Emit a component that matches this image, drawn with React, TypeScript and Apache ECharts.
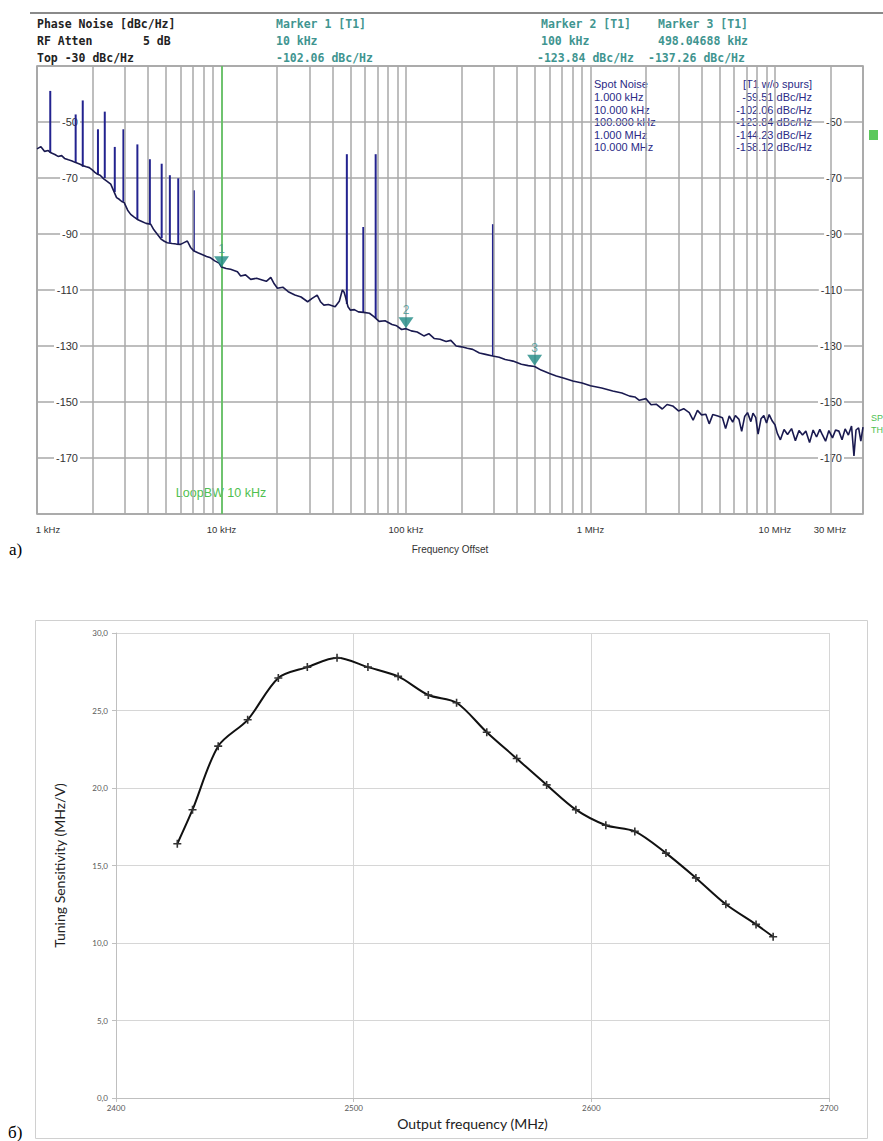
import React, { useEffect, useRef } from "react";
import * as echarts from "echarts";

// ---------- (a) phase noise: trace without spurs ----------
const noiseFreq = [
  1000, 1050, 1100, 1150, 1190, 1250, 1300, 1360, 1410, 1480, 1550, 1620, 1700, 1780, 1850, 1920,
  2000, 2060, 2130, 2200, 2300, 2400, 2510, 2600, 2700, 2790, 2880, 2970, 3100, 3220, 3350, 3500,
  3700, 3900, 4130, 4300, 4490, 4700, 4900, 5080, 5400, 5700, 6000, 6300, 6530, 6800, 7100, 7500,
  7900, 8300, 8730, 9200, 9700, 10000, 10600, 11200, 12200, 12700, 13500, 14400, 15500, 16600,
  17500, 18500, 19300, 20100, 21500, 23000, 25000, 27000, 29300, 31000, 33000, 34500, 35900, 38000,
  41300, 43500, 45200, 46200, 47000, 48500, 50000, 52500, 55200, 59000, 63400, 67000, 71500, 77000,
  84000, 89000, 94700, 100000, 106800, 115000, 125000, 133000, 142000, 153000, 165000, 175000,
  187000, 200000, 215000, 230000, 250000, 270000, 295000, 320000, 345000, 380000, 422000, 460000,
  498000, 540000, 600000, 653000, 720000, 802000, 900000, 1000000, 1150000, 1320000, 1480000,
  1630000, 1740000, 1840000, 2000000, 2130000, 2270000, 2450000, 2600000, 2790000, 3000000,
  3200000, 3430000, 3600000, 3800000, 4000000, 4220000, 4400000, 4600000, 4900000, 5190000,
  5400000, 5650000, 5900000, 6100000, 6380000, 6600000, 6850000, 7100000, 7400000, 7600000,
  7870000, 8100000, 8400000, 8700000, 9000000, 9300000, 9670000, 10000000, 10300000, 10700000,
  11200000, 11700000, 12300000, 12900000, 13500000, 14100000, 14700000, 15400000, 16100000,
  16800000, 17500000, 18000000, 18800000, 19600000, 20500000, 21300000, 22200000, 23100000,
  24000000, 25000000, 26000000, 26800000, 27500000, 28400000, 29200000, 30000000,
];
const noiseLevel = [
  -59.6, -58.8, -60.5, -60.2, -61.0, -61.6, -62.3, -62.0, -63.0, -63.5, -63.9, -64.5, -65.0, -65.6, -66.0, -66.3,
  -67.2, -68.0, -68.7, -69.0, -70.3, -71.2, -72.2, -74.5, -77.0, -77.6, -78.4, -78.8, -81.5, -83.0, -83.9, -84.8,
  -85.5, -86.2, -86.5, -88.5, -90.1, -91.8, -92.6, -93.1, -93.4, -93.6, -93.7, -93.0, -92.5, -94.8, -96.1, -96.8,
  -97.4, -98.0, -98.5, -99.6, -100.4, -101.8, -102.3, -102.6, -103.5, -105.0, -104.6, -106.2, -105.8, -106.4,
  -106.9, -105.5, -107.8, -109.4, -109.0, -110.6, -111.8, -112.5, -114.2, -113.0, -111.8, -114.3, -115.4, -115.2,
  -116.0, -114.0, -110.0, -110.8, -112.5, -116.0, -117.2, -117.0, -117.8, -118.0, -118.3, -119.5, -121.2, -121.0,
  -122.3, -122.8, -124.1, -123.8, -124.6, -125.0, -126.4, -125.6, -127.3, -127.6, -128.4, -128.0,
  -130.0, -130.3, -130.8, -131.2, -132.5, -133.0, -133.6, -134.0, -134.8, -135.4, -136.5, -137.0,
  -137.3, -138.6, -139.8, -140.7, -141.5, -142.5, -143.2, -144.2, -145.0, -146.1, -146.8,
  -147.9, -148.2, -149.4, -148.8, -151.0, -150.8, -152.5, -150.9, -151.4, -153.2,
  -152.4, -153.8, -156.5, -153.0, -154.6, -154.4, -157.8, -154.5, -155.0, -155.6,
  -159.5, -155.0, -157.2, -154.8, -156.2, -160.5, -155.2, -153.8, -157.0, -154.0,
  -155.6, -161.5, -156.0, -154.8, -157.5, -154.5, -156.8, -158.1, -161.2, -163.5,
  -159.8, -161.6, -159.5, -163.8, -160.2, -161.8, -160.4, -164.5, -160.0,
  -162.5, -159.8, -161.5, -164.0, -160.2, -162.8, -160.0, -160.4, -163.5,
  -159.6, -161.8, -158.6, -169.3, -160.0, -159.2, -164.0, -159.0,
];

// ---------- (a) spurs ----------
const spikeFreq = [1180, 1620, 1770, 2140, 2330, 2640, 2940, 3500, 4090, 4740, 5250, 5830, 7080, 47800, 58700, 68500, 296000];
const spikeBase = [-61.0, -64.5, -66.0, -68.7, -70.0, -75.0, -78.5, -84.8, -86.5, -91.5, -93.1, -93.7, -96.1, -115.0, -118.0, -120.0, -133.6];
const spikeTop = [-38.9, -47.3, -42.3, -52.6, -46.3, -58.9, -52.6, -58.0, -63.3, -64.9, -69.0, -70.1, -74.4, -61.5, -87.5, -61.5, -86.5];

// ---------- (a) markers ----------
const markerName = ["1", "2", "3"];
const markerFreq = [10000, 100000, 498046.88];
const markerLevel = [-102.06, -123.84, -137.26];
const markerFreqText = ["10 kHz", "100 kHz", "498.04688 kHz"];
const markerLevelText = ["-102.06 dBc/Hz", "-123.84 dBc/Hz", "-137.26 dBc/Hz"];

// ---------- (a) spot noise table ----------
const spotFreqText = ["1.000 kHz", "10.000 kHz", "100.000 kHz", "1.000 MHz", "10.000 MHz"];
const spotLevel = [-59.51, -102.06, -123.84, -144.23, -158.12];

// ---------- (a) grid frequencies (1..9 x decade) ----------
const gridMantissa = [2, 3, 4, 5, 6, 7, 8, 9];
const gridDecades = [1000, 10000, 100000, 1000000, 10000000];
const loopBW = 10000;

// ---------- (b) tuning sensitivity ----------
const tuneFreq = [2425.8, 2432.2, 2443.0, 2455.4, 2468.3, 2480.5, 2493.0, 2506.0, 2518.7, 2531.4, 2543.3, 2556.0, 2568.6, 2581.2, 2593.5, 2606.1, 2618.3, 2631.4, 2644.0, 2656.6, 2669.3, 2676.5];
const tuneSens = [16.4, 18.6, 22.7, 24.4, 27.1, 27.8, 28.4, 27.8, 27.2, 26.0, 25.5, 23.6, 21.9, 20.2, 18.6, 17.6, 17.2, 15.8, 14.2, 12.5, 11.2, 10.4];

const W = 883;
const H = 1141;
const TEAL = "#3f9590";
const NAVY = "#2a2a86";

function fmtFreq(v: number) {
  const r = Math.round(v);
  if (r <= 1000) return `{first|1 kHz}`;
  if (r >= 29000000) return `{last|${Math.round(r / 1e6)} MHz}`;
  if (r >= 1e6) return `${Math.round(r / 1e6)} MHz`;
  return `${Math.round(r / 1e3)} kHz`;
}

export default function App() {
  const ref = useRef<HTMLDivElement>(null);
  useEffect(() => {
    if (!ref.current) return;
    const chart = echarts.init(ref.current, undefined, { renderer: "svg" });

    const minorGrid: any[] = [];
    gridDecades.forEach((d) => {
      gridMantissa.forEach((m) => {
        const f = d * m;
        if (f < 30000000) minorGrid.push({ xAxis: f });
      });
    });

    const mono = '"DejaVu Sans Mono", monospace';
    const hdr = (x: number, y: number, text: string, fill: string) => ({
      type: "text",
      x,
      y,
      silent: true,
      style: { text, fill, font: `bold 11.5px ${mono}`, verticalAlign: "middle", align: "left" },
    });
    const sans = '"Liberation Sans", Arial, sans-serif';
    const cell = (x: number, y: number, text: string, align: string) => ({
      type: "text",
      x,
      y,
      silent: true,
      style: { text, fill: NAVY, font: `11px ${sans}`, verticalAlign: "middle", align },
    });

    const rowY = [84, 97, 110, 122, 135, 147];
    const graphics: any[] = [
      { type: "line", shape: { x1: 30, y1: 13, x2: 883, y2: 13 }, style: { stroke: "#8a8a8a", lineWidth: 2 }, silent: true },
      hdr(37, 24, "Phase Noise [dBc/Hz]", "#222"),
      hdr(37, 41, "RF Atten", "#222"),
      hdr(143, 41, "5 dB", "#222"),
      hdr(37, 58, "Top -30 dBc/Hz", "#222"),
      hdr(276, 24, "Marker 1 [T1]", TEAL),
      hdr(541, 24, "Marker 2 [T1]", TEAL),
      hdr(658, 24, "Marker 3 [T1]", TEAL),
      hdr(276, 41, markerFreqText[0], TEAL),
      hdr(541, 41, markerFreqText[1], TEAL),
      hdr(658, 41, markerFreqText[2], TEAL),
      hdr(276, 58, markerLevelText[0], TEAL),
      hdr(537, 58, markerLevelText[1], TEAL),
      hdr(648, 58, markerLevelText[2], TEAL),
      cell(594, rowY[0], "Spot Noise", "left"),
      cell(812, rowY[0], "[T1 w/o spurs]", "right"),
      ...spotFreqText.map((t, i) => cell(594, rowY[i + 1], t, "left")),
      ...spotLevel.map((v, i) => cell(812, rowY[i + 1], `${v.toFixed(2)} dBc/Hz`, "right")),
      {
        type: "text", x: 221, y: 493, silent: true,
        style: { text: "LoopBW 10 kHz", fill: "#4fc04f", font: `12.5px ${sans}`, align: "center", verticalAlign: "middle" },
      },
      { type: "rect", shape: { x: 869, y: 130, width: 9, height: 10 }, style: { fill: "#5cc85c" }, silent: true },
      { type: "text", x: 871, y: 418, silent: true, style: { text: "SP", fill: "#4fc04f", font: `9px ${sans}`, verticalAlign: "middle" } },
      { type: "text", x: 871, y: 430, silent: true, style: { text: "TH", fill: "#4fc04f", font: `9px ${sans}`, verticalAlign: "middle" } },
      { type: "text", x: 9, y: 549, silent: true, style: { text: "a)", fill: "#000", font: '17px "Liberation Serif", serif', verticalAlign: "middle" } },
      { type: "rect", shape: { x: 35.5, y: 620.5, width: 832, height: 518 }, style: { fill: "none", stroke: "#d0d0d0", lineWidth: 1 }, silent: true },
      { type: "text", x: 8, y: 1132, silent: true, style: { text: "б)", fill: "#000", font: '17px "Liberation Serif", serif', verticalAlign: "middle" } },
    ];

    const dbFmt = (v: number) => (v > -190 && v < -30 && (v + 190) % 20 === 0 ? `${v}` : "");

    const option: any = {
      animation: false,
      backgroundColor: "#fff",
      grid: [
        { left: 37, top: 66, width: 826, height: 448, show: true, borderColor: "#9a9a9a", borderWidth: 1.5, backgroundColor: "transparent" },
        { left: 116, top: 633, width: 713, height: 465, show: false },
      ],
      xAxis: [
        {
          type: "log",
          logBase: 10,
          gridIndex: 0,
          min: 1000,
          max: 30000000,
          name: "Frequency Offset",
          nameLocation: "middle",
          nameGap: 30,
          nameTextStyle: { fontSize: 10, color: "#333", fontFamily: sans },
          axisLine: { show: false },
          axisTick: { show: false },
          axisLabel: {
            fontSize: 9.5,
            color: "#333",
            fontFamily: sans,
            margin: 10,
            formatter: fmtFreq,
            alignMinLabel: "center",
            alignMaxLabel: "center",
            rich: {
              first: { fontSize: 9.5, color: "#333", fontFamily: sans, padding: [0, 0, 0, 22] },
              last: { fontSize: 9.5, color: "#333", fontFamily: sans, padding: [0, 66, 0, 0] },
            },
          },
          splitLine: { show: true, lineStyle: { color: "#a8a8a8", width: 1.5 } },
        },
        {
          type: "value",
          gridIndex: 1,
          min: 2400,
          max: 2700,
          interval: 100,
          name: "Output frequency (MHz)",
          nameLocation: "middle",
          nameGap: 18,
          nameTextStyle: { fontSize: 14, color: "#222", fontFamily: "Lato, sans-serif" },
          axisLine: { show: true, lineStyle: { color: "#bfbfbf" } },
          axisTick: { show: true, length: 4, lineStyle: { color: "#bfbfbf" } },
          axisLabel: { fontSize: 8, color: "#595959", fontFamily: "Lato, sans-serif", margin: 6, formatter: (v: number) => String(v) },
          splitLine: { show: true, lineStyle: { color: "#d6d6d6", width: 1 } },
        },
      ],
      yAxis: [
        {
          type: "value",
          gridIndex: 0,
          min: -190,
          max: -30,
          interval: 10,
          position: "left",
          z: 3,
          axisLine: { show: false },
          axisTick: { show: false },
          splitLine: { show: true, lineStyle: { color: ["#a8a8a8", "rgba(0,0,0,0)"], width: 1.5 } },
          axisLabel: {
            inside: true,
            margin: 43,
            align: "right",
            fontSize: 11,
            color: "#333",
            fontFamily: sans,
            backgroundColor: "#fff",
            padding: [0, 2],
            formatter: dbFmt,
          },
        },
        {
          type: "value",
          gridIndex: 0,
          min: -190,
          max: -30,
          interval: 10,
          position: "right",
          z: 3,
          axisLine: { show: false },
          axisTick: { show: false },
          splitLine: { show: false },
          axisLabel: {
            inside: true,
            margin: 19,
            align: "right",
            fontSize: 11,
            color: "#333",
            fontFamily: sans,
            backgroundColor: "#fff",
            padding: [0, 2],
            formatter: dbFmt,
          },
        },
        {
          type: "value",
          gridIndex: 1,
          min: 0,
          max: 30,
          interval: 5,
          name: "Tuning Sensitivity (MHz/V)",
          nameLocation: "middle",
          nameGap: 50,
          nameRotate: 90,
          nameTextStyle: { fontSize: 14, color: "#222", fontFamily: "Lato, sans-serif" },
          axisLine: { show: true, lineStyle: { color: "#bfbfbf" } },
          axisTick: { show: true, length: 4, lineStyle: { color: "#bfbfbf" } },
          axisLabel: {
            fontSize: 8,
            color: "#595959",
            fontFamily: "Lato, sans-serif",
            margin: 8,
            formatter: (v: number) => v.toFixed(1).replace(".", ","),
          },
          splitLine: { show: true, lineStyle: { color: "#d6d6d6", width: 1 } },
        },
      ],
      series: [
        {
          name: "grid",
          type: "line",
          xAxisIndex: 0,
          yAxisIndex: 0,
          z: 1,
          data: [[1000, -30]],
          showSymbol: false,
          lineStyle: { opacity: 0 },
          silent: true,
          markLine: {
            silent: true,
            symbol: "none",
            label: { show: false },
            lineStyle: { color: "#a8a8a8", width: 1.5, type: "solid" },
            data: minorGrid,
          },
        },
        {
          name: "loopbw",
          type: "line",
          xAxisIndex: 0,
          yAxisIndex: 0,
          z: 2,
          data: [[1000, -30]],
          showSymbol: false,
          lineStyle: { opacity: 0 },
          silent: true,
          markLine: {
            silent: true,
            symbol: "none",
            label: { show: false },
            lineStyle: { color: "#55c555", width: 1.5, type: "solid" },
            data: [{ xAxis: loopBW }],
          },
        },
        {
          name: "spurs",
          type: "custom",
          xAxisIndex: 0,
          yAxisIndex: 0,
          z: 4,
          silent: true,
          data: spikeFreq.map((f, i) => [f, spikeBase[i], spikeTop[i]]),
          encode: { x: 0, y: [1, 2] },
          renderItem: (params: any, api: any) => {
            const p1 = api.coord([api.value(0), api.value(1)]);
            const p2 = api.coord([api.value(0), api.value(2)]);
            return {
              type: "line",
              shape: { x1: p1[0], y1: p1[1], x2: p2[0], y2: p2[1] },
              style: { stroke: "#23238f", lineWidth: 2 },
            };
          },
        },
        {
          name: "T1 w/o spurs",
          type: "line",
          xAxisIndex: 0,
          yAxisIndex: 0,
          z: 5,
          data: noiseFreq.map((f, i) => [f, noiseLevel[i]]),
          showSymbol: false,
          lineStyle: { color: "#1a1a50", width: 1.6 },
          silent: true,
        },
        {
          name: "markers",
          type: "scatter",
          xAxisIndex: 0,
          yAxisIndex: 0,
          z: 6,
          data: markerFreq.map((f, i) => [f, markerLevel[i]]),
          symbol: "triangle",
          symbolRotate: 180,
          symbolSize: [15, 11],
          symbolOffset: [0, -6],
          itemStyle: { color: "#1f8a84" },
          label: {
            show: true,
            position: "top",
            distance: 1,
            color: TEAL,
            fontSize: 12,
            fontFamily: sans,
            formatter: (p: any) => markerName[p.dataIndex],
          },
          silent: true,
        },
        {
          name: "Tuning Sensitivity",
          type: "line",
          xAxisIndex: 1,
          yAxisIndex: 2,
          data: tuneFreq.map((f, i) => [f, tuneSens[i]]),
          smooth: 0.3,
          symbol: "path://M4,0h2v4h4v2h-4v4h-2v-4h-4v-2h4z",
          symbolSize: 8,
          showSymbol: true,
          itemStyle: { color: "#333" },
          lineStyle: { color: "#111", width: 2 },
          silent: true,
        },
      ],
      graphic: graphics,
    };

    chart.setOption(option);
    return () => chart.dispose();
  }, []);

  return <div ref={ref} style={{ position: "absolute", left: 0, top: 0, width: W, height: H }} />;
}
